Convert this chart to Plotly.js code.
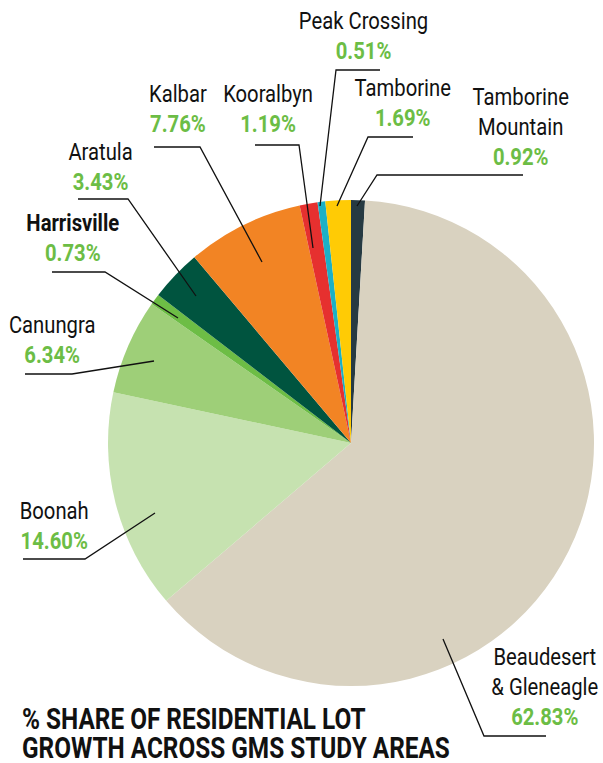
<!DOCTYPE html>
<html>
<head>
<meta charset="utf-8">
<script src="https://cdn.plot.ly/plotly-3.0.1.min.js"></script>
<style>
html,body{margin:0;padding:0;background:#fff;}
#chart{width:603px;height:763px;}
</style>
</head>
<body>
<div id="chart"></div>
<script>
// Data (clockwise from 12 o'clock)
const areas = ["Tamborine Mountain", "Beaudesert & Gleneagle", "Boonah", "Canungra", "Harrisville", "Aratula", "Kalbar", "Kooralbyn", "Peak Crossing", "Tamborine"];
const shares = [0.92, 62.83, 14.60, 6.34, 0.73, 3.43, 7.76, 1.19, 0.51, 1.69];
const sliceColors = ["#263a42", "#d9d2c0", "#c6e2b0", "#9ecf78", "#6dbd45", "#00543f", "#f28424", "#e6302f", "#1bb0c6", "#ffcb05"];
const labelLines = [["Tamborine", "Mountain"], ["Beaudesert", "& Gleneagle"], ["Boonah"], ["Canungra"], ["<b>Harrisville</b>"], ["Aratula"], ["Kalbar"], ["Kooralbyn"], ["Peak Crossing"], ["Tamborine"]];
const titleLines = ["% SHARE OF RESIDENTIAL LOT", "GROWTH ACROSS GMS STUDY AREAS"];

const W = 603, H = 763;
const px = x => x / W;
const py = y => 1 - y / H;
const FONT = "Roboto, 'Liberation Sans', sans-serif";
const GREEN = "#6cbd45";
const SQUEEZE_LABEL = 0.88;
const SQUEEZE_TITLE = 0.84;

// label block centres & leader paths (pixel layout)
const labelPos = [
  {x: 520, y: 127, path: [[523,175],[377,175],[357,206]]},
  {x: 545, y: 687, path: [[443,639],[484,736],[546,736]]},
  {x: 54,  y: 526, path: [[23,559],[85,559],[155,513]]},
  {x: 52,  y: 341, path: [[25,374],[72,374],[154,361]]},
  {x: 73,  y: 238, path: [[52,272],[105,272],[178,318]]},
  {x: 101, y: 167, path: [[78,199],[128,199],[196,296]]},
  {x: 178, y: 110, path: [[154,147],[200,147],[262,262]]},
  {x: 268, y: 110, path: [[255,145],[299,145],[313,248]]},
  {x: 363, y: 37,  path: [[380,70],[336,70],[320,206]]},
  {x: 402, y: 103, path: [[413,137],[368,137],[337,206]]}
];

const annotations = [];
const shapes = [];
areas.forEach((a, i) => {
  const txt = labelLines[i].join("<br>") + "<br><b><span style='color:" + GREEN + "'>" + shares[i].toFixed(2) + "%</span></b>";
  annotations.push({
    xref: "paper", yref: "paper", x: px(labelPos[i].x), y: py(labelPos[i].y),
    xanchor: "center", yanchor: "middle", align: "center", showarrow: false,
    text: txt, font: {family: FONT, size: 23, color: "#111"},
    name: "label"
  });
  const p = labelPos[i].path;
  let d = "M" + px(p[0][0]) + "," + py(p[0][1]);
  for (let k = 1; k < p.length; k++) d += " L" + px(p[k][0]) + "," + py(p[k][1]);
  shapes.push({type: "path", xref: "paper", yref: "paper", path: d, line: {color: "#111", width: 1.3}});
});

const titleY = [718.5, 748];
titleLines.forEach((t, k) => {
  annotations.push({
    xref: "paper", yref: "paper", x: px(20), y: py(titleY[k]), xanchor: "left", yanchor: "middle", align: "left",
    showarrow: false, text: "<b>" + t + "</b>",
    font: {family: FONT, size: 29, color: "#111"},
    name: "title"
  });
});

const cx = 351, cy = 443, r = 243;
const trace = {
  type: "pie",
  labels: areas,
  values: shares,
  sort: false,
  direction: "clockwise",
  rotation: 0,
  marker: {colors: sliceColors, line: {width: 0}},
  textinfo: "none",
  hoverinfo: "label+percent",
  domain: {x: [px(cx - r), px(cx + r)], y: [py(cy + r), py(cy - r)]},
  showlegend: false
};

Plotly.newPlot("chart", [trace], {
  width: W, height: H,
  margin: {l: 0, r: 0, t: 0, b: 0},
  paper_bgcolor: "#fff",
  showlegend: false,
  annotations: annotations,
  shapes: shapes
}, {displayModeBar: false, staticPlot: true}).then(gd => {
  // emulate the condensed typeface of the original by narrowing the text horizontally
  const texts = gd.querySelectorAll("text.annotation-text");
  const nLabels = areas.length;
  texts.forEach((t, i) => {
    const bb = t.getBBox();
    const isTitle = i >= nLabels;
    const ax = isTitle ? bb.x : bb.x + bb.width / 2;
    const s = isTitle ? SQUEEZE_TITLE : SQUEEZE_LABEL;
    t.setAttribute("transform", "translate(" + ax + ",0) scale(" + s + ",1) translate(" + (-ax) + ",0)");
  });
});
</script>
</body>
</html>
